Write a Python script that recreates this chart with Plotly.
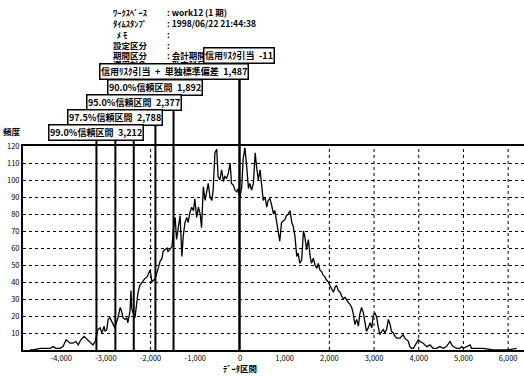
import plotly.graph_objects as go

# Frequency distribution of the data interval (value, count)
interval = [-4700, -4630, -4470, -4340, -4250, -4180, -4120, -4030, -3960, -3890, -3850, -3800,
            -3740, -3670, -3620, -3560, -3490, -3450, -3400, -3330, -3290, -3240,
            -3180, -3130, -3090, -3040, -3020, -2980, -2950, -2910, -2860, -2820, -2800,
            -2730, -2680, -2640, -2620, -2570, -2530, -2510, -2460, -2440, -2420,
            -2350, -2300, -2280, -2240, -2190, -2130, -2080, -2060, -2010, -1970, -1900,
            -1830, -1790, -1745, -1720, -1680, -1630, -1610, -1570, -1520,
            -1490, -1450, -1420, -1380, -1340, -1300, -1270, -1230, -1190, -1160, -1120,
            -1080, -1040, -1010, -970, -930, -890, -860, -820, -780, -750, -710, -670,
            -630, -600, -560, -520, -490, -450, -410, -370, -340, -300, -260, -220,
            -190, -150, -110, -70, -40, 0, 40, 70, 110, 150, 190, 220, 260, 300, 340,
            370, 410, 450, 490, 520, 560, 600, 630, 670, 710, 750, 780, 820, 860, 890,
            930, 970, 1010, 1040, 1080, 1120, 1160, 1190, 1230, 1270, 1300, 1340, 1380,
            1420, 1450, 1490, 1530, 1570, 1600, 1640, 1680, 1720, 1750, 1790, 1830,
            1860, 1900, 1940, 1980, 2010, 2050, 2090, 2130, 2160, 2200, 2240, 2270,
            2310, 2350, 2390, 2420, 2460, 2500, 2530, 2570, 2610, 2650, 2680, 2720,
            2760, 2800, 2830, 2870, 2910, 2950, 2980, 3020, 3060, 3090, 3130, 3170,
            3210, 3240, 3280, 3320, 3360, 3390, 3430, 3470, 3510, 3580, 3650, 3690,
            3730, 3770, 3800, 3840, 3880, 3950, 3990, 4030, 4100, 4180, 4250, 4320,
            4400, 4470, 4550, 4620, 4700, 4740, 4770, 4850, 4920, 4960, 5000, 5150,
            5180, 5220, 5440, 5670, 5970, 6190]
frequency = [0, 0, 1, 1, 1, 2, 1, 1, 2, 6, 5, 4,
             4, 5, 3, 6, 8, 7, 6, 4, 3, 5,
             12, 13, 10, 14, 11, 12, 18, 19, 16, 14, 13,
             19, 25, 22, 19, 18, 19, 16, 23, 35, 24,
             19, 31, 34, 38, 40, 42, 43, 44, 47, 40, 42,
             48, 52, 54, 58, 59, 60, 58, 59, 61,
             71, 78, 65, 72, 79, 55, 67, 75, 78, 75, 81,
             84, 82, 89, 78, 84, 80, 72, 96, 88, 92, 98, 90,
             88, 94, 116, 118, 102, 100, 106, 99, 102, 101, 104, 110,
             98, 97, 94, 93, 95, 90, 96, 112, 119, 108, 95, 98, 94, 98, 116,
             108, 100, 106, 96, 88, 90, 84, 88, 89, 85, 80, 82, 75, 67, 64,
             75, 76, 77, 79, 80, 82, 75, 73, 67, 55, 57, 51, 53,
             70, 67, 59, 65, 55, 51, 54, 50, 48, 51, 47, 46,
             44, 43, 41, 40, 38, 36, 34, 37, 38, 35, 34, 32,
             30, 31, 29, 28, 27, 25, 22, 15, 18, 14, 21, 25,
             22, 15, 11, 13, 16, 13, 20, 22, 19, 14, 9, 11,
             12, 10, 12, 18, 15, 11, 10, 8, 7, 7, 9, 7,
             6, 5, 2, 1, 1, 4, 6, 5, 4, 2, 3, 1,
             1, 2, 1, 2, 5, 3, 2, 1, 1, 2, 1, 3,
             1, 1, 1, 0, 0, 1]

# Risk measures marked on the distribution
measure_labels = ["信用ﾘｽｸ引当\u2002-11", "信用ﾘｽｸ引当\u2002+\u2002単独標準偏差\u20021,487",
                  "90.0%信頼区間\u20021,892", "95.0%信頼区間\u20022,377",
                  "97.5%信頼区間\u20022,788", "99.0%信頼区間\u20023,212"]
measure_values = [-11, -1487, -1892, -2377, -2788, -3212]

# Run information shown above the chart
info_keys = ["ﾜｰｸｽﾍﾟｰｽ", "ﾀｲﾑｽﾀﾝﾌﾟ", "  ﾒ ﾓ", "設定区分", "期間区分", "運用対象"]
info_values = [": work12 (1 期)", ": 1998/06/22 21:44:38", ":", ":", ": 会計期間", ": 勘定科目"]

x_ticks = [-4000, -3000, -2000, -1000, 0, 1000, 2000, 3000, 4000, 5000, 6000]
x_tick_text = ["-4,000", "-3,000", "-2,000", "-1,000", "0", "1,000", "2,000",
               "3,000", "4,000", "5,000", "6,000"]
x_grid = [-2000, 2000, 3000, 4000, 5000, 6000]
y_ticks = [10, 20, 30, 40, 50, 60, 70, 80, 90, 100, 110, 120]

FONT = "Noto Sans CJK JP"

fig = go.Figure()
fig.add_trace(go.Scatter(x=interval, y=frequency, mode="lines",
                         line=dict(color="black", width=1.3), showlegend=False,
                         hoverinfo="skip"))

shapes = []
for gx in x_grid:
    shapes.append(dict(type="line", xref="x", yref="paper", x0=gx, x1=gx, y0=0, y1=1,
                       line=dict(color="black", width=1, dash="dot"), layer="below"))

# Marker lines run from the baseline up to their label boxes
box_bottom = [1.412, 1.333, 1.260, 1.186, 1.113, 1.034]
for v, top in zip(measure_values, box_bottom):
    shapes.append(dict(type="line", xref="x", yref="paper", x0=v, x1=v, y0=0, y1=top,
                       line=dict(color="black", width=2 if v != -11 else 2.5)))

annotations = []
row_y = [1.657, 1.603, 1.549, 1.495, 1.446, 1.402]
for k, val, ry in zip(info_keys, info_values, row_y):
    annotations.append(dict(text=f"<b>{k}</b>", xref="paper", yref="paper", x=0.1756, y=ry,
                            xanchor="left", yanchor="middle", showarrow=False,
                            font=dict(family=FONT, size=8.5, color="black")))
    annotations.append(dict(text=f"<b>{val}</b>", xref="paper", yref="paper", x=0.2834, y=ry,
                            xanchor="left", yanchor="middle", showarrow=False,
                            font=dict(family=FONT, size=8.5, color="black")))

# Each label box sits centred over its own marker line
box_mid = [1.444, 1.363, 1.287, 1.213, 1.140, 1.064]
for lab, v, by in zip(measure_labels, measure_values, box_mid):
    annotations.append(dict(text=f"<b>{lab}</b>", xref="x", yref="paper", x=v, y=by,
                            xanchor="center", yanchor="middle", showarrow=False,
                            bgcolor="white", bordercolor="black", borderwidth=1.5,
                            borderpad=0.5,
                            font=dict(family=FONT, size=9, color="black")))

annotations.append(dict(text="<b>頻度</b>", xref="paper", yref="paper", x=-0.022, y=1.074,
                        xanchor="center", yanchor="middle", showarrow=False,
                        font=dict(family=FONT, size=8.5, color="black")))
annotations.append(dict(text="<b>ﾃﾞｰﾀ区間</b>", xref="x", yref="paper", x=0, y=-0.088,
                        xanchor="center", yanchor="middle", showarrow=False,
                        font=dict(family=FONT, size=8.5, color="black")))

fig.update_layout(
    width=524, height=377,
    margin=dict(l=23, r=0, t=146, b=27),
    paper_bgcolor="white", plot_bgcolor="white",
    shapes=shapes, annotations=annotations,
    xaxis=dict(range=[-4855, 6355], tickvals=x_ticks, ticktext=x_tick_text,
               showgrid=False, zeroline=False, showline=True, linecolor="black",
               linewidth=2, mirror=True, ticks="",
               tickfont=dict(family=FONT, size=7.5, color="black"), tickprefix="<b>",
               ticksuffix="</b>"),
    yaxis=dict(range=[0, 120], tickvals=y_ticks, showgrid=True, gridcolor="black",
               griddash="dot", gridwidth=1, zeroline=False, showline=True,
               linecolor="black", linewidth=2, ticks="",
               tickfont=dict(family=FONT, size=7.5, color="black"), tickprefix="<b>",
               ticksuffix="</b>"),
)

fig.write_html("out.html")
